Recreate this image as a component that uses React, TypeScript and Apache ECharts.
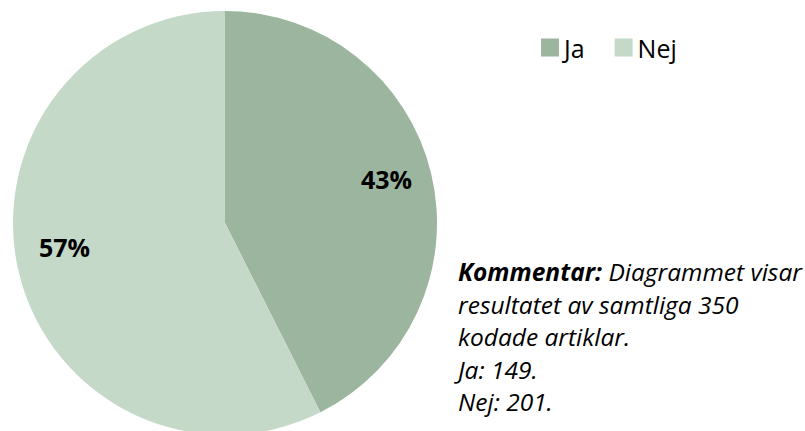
import React, { useEffect, useRef } from "react";
import * as echarts from "echarts";

const categories = ["Ja", "Nej"];
const values = [149, 201];
const colors = ["#9bb59e", "#c4d9c7"];
const commentLines = [
  "resultatet av samtliga 350",
  "kodade artiklar.",
  "Ja: 149.",
  "Nej: 201.",
];

export default function App() {
  const ref = useRef<HTMLDivElement>(null);
  useEffect(() => {
    const chart = echarts.init(ref.current!, undefined, { renderer: "svg" });
    const total = values.reduce((a, b) => a + b, 0);
    const data = categories.map((c, i) => ({ name: c, value: values[i], itemStyle: { color: colors[i] } }));
    const font = "'Open Sans', 'Noto Sans', sans-serif";
    chart.setOption({
      animation: false,
      legend: {
        data: categories,
        left: 536,
        top: 30,
        itemWidth: 18,
        itemHeight: 18,
        itemGap: 30,
        icon: "rect",
        textStyle: { fontFamily: font, fontSize: 25, color: "#000" },
      },
      series: [
        {
          type: "pie",
          center: [225, 223],
          radius: [0, 212],
          startAngle: 90,
          clockwise: true,
          silent: true,
          label: { show: false },
          labelLine: { show: false },
          data,
        },
        {
          type: "pie",
          center: [225, 223],
          radius: [114, 212],
          startAngle: 90,
          clockwise: true,
          silent: true,
          itemStyle: { color: "transparent" },
          label: {
            show: true,
            position: "inside",
            fontFamily: font,
            fontWeight: "bold",
            fontSize: 25,
            color: "#000",
            formatter: (p: any) => Math.round((p.value / total) * 100) + "%",
          },
          labelLayout: (p: any) => ({ dx: p.dataIndex === 0 ? 0 : 1, dy: p.dataIndex === 0 ? -6 : -14 }),
          labelLine: { show: false },
          data: categories.map((c, i) => ({ name: c, value: values[i], itemStyle: { color: "transparent" } })),
        },
      ],
      graphic: [
        {
          type: "text",
          left: 458,
          top: 259,
          style: {
            text: "{b|Kommentar: }{i|Diagrammet visar}\n" + commentLines.map((l) => "{i|" + l + "}").join("\n"),
            rich: {
              b: { fontFamily: font, fontSize: 24.5, fontWeight: "bold", fontStyle: "italic", lineHeight: 32.5, fill: "#000" },
              i: { fontFamily: font, fontSize: 24.5, fontStyle: "italic", lineHeight: 32.5, fill: "#000" },
            },
          },
        },
      ],
    });
    return () => chart.dispose();
  }, []);
  return <div ref={ref} style={{ width: 805, height: 431, position: "absolute", left: 0, top: 0 }} />;
}
